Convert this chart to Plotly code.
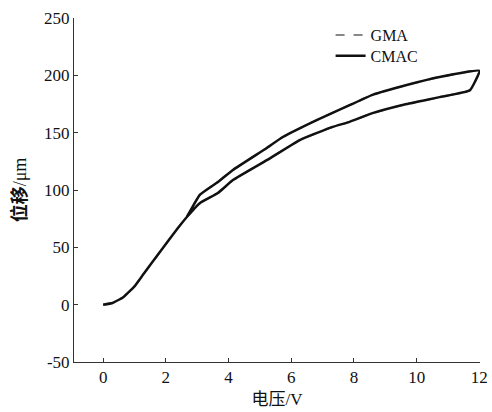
import plotly.graph_objects as go

# Hysteresis loop: rising branch (lower) then falling branch (upper)
voltage = [0, 0.3, 0.64, 1.0, 1.27, 1.81, 2.36, 2.67, 3.09, 3.66, 4.14, 5.22, 6.27, 7.32, 7.86, 8.59, 9.68, 10.73, 11.7,
           12.0, 10.73, 9.68, 8.59, 7.86, 6.81, 5.73, 5.22, 4.14, 3.66, 3.09, 2.67]
gma = [0, 1.5, 6.5, 16, 26, 46, 66, 76.5, 88.7, 97.4, 108.7, 126, 143.6, 155, 159.4, 167, 175, 181, 187,
       204, 198.6, 191.6, 183, 174, 161, 146.2, 136.7, 117.5, 107, 96, 76.5]
cmac = [0, 1.5, 6.5, 16, 26, 46, 66, 76.5, 88.7, 97.4, 108.7, 126, 143.6, 155, 159.4, 167, 175, 181, 187,
        204, 198.6, 191.6, 183, 174, 161, 146.2, 136.7, 117.5, 107, 96, 76.5]

x_ticks = [0, 2, 4, 6, 8, 10, 12]
y_ticks = [-50, 0, 50, 100, 150, 200, 250]

serif = "Liberation Serif, Noto Sans CJK SC, serif"

fig = go.Figure()
fig.add_trace(go.Scatter(x=voltage, y=gma, mode="lines", name="GMA", legend="legend",
                         line=dict(color="#888888", width=2, dash="dash", shape="spline", smoothing=0.35)))
fig.add_trace(go.Scatter(x=voltage, y=cmac, mode="lines", name="CMAC", legend="legend2",
                         line=dict(color="#111111", width=2.5, shape="spline", smoothing=0.35)))

leg_common = dict(xanchor="left", yanchor="middle", bgcolor="rgba(0,0,0,0)",
                  font=dict(family=serif, size=16), itemwidth=30)

fig.update_layout(
    width=492, height=412,
    margin=dict(l=74, r=12, t=18, b=50),
    paper_bgcolor="white", plot_bgcolor="white",
    font=dict(family=serif, size=17, color="#111111"),
    showlegend=True,
    legend=dict(x=0.632, y=0.95, **leg_common),
    legend2=dict(x=0.632, y=0.89, **leg_common),
    xaxis=dict(range=[-0.93, 12.02], tickvals=x_ticks, ticktext=[str(v) for v in x_ticks],
               showgrid=False, zeroline=False, showline=True, linecolor="#333333", linewidth=1,
               ticks="inside", ticklen=4, tickcolor="#333333", automargin=False,
               title=dict(text="电压/V", font=dict(family=serif, size=17), standoff=6)),
    yaxis=dict(range=[-50, 250], tickvals=y_ticks, ticktext=[str(v) for v in y_ticks],
               showgrid=False, zeroline=False, showline=True, linecolor="#333333", linewidth=1,
               ticks="inside", ticklen=4, tickcolor="#333333", automargin=False,
               title=dict(text="<b>位移</b>/μm", font=dict(family=serif, size=18), standoff=12)),
)

fig.write_html("out.html")
